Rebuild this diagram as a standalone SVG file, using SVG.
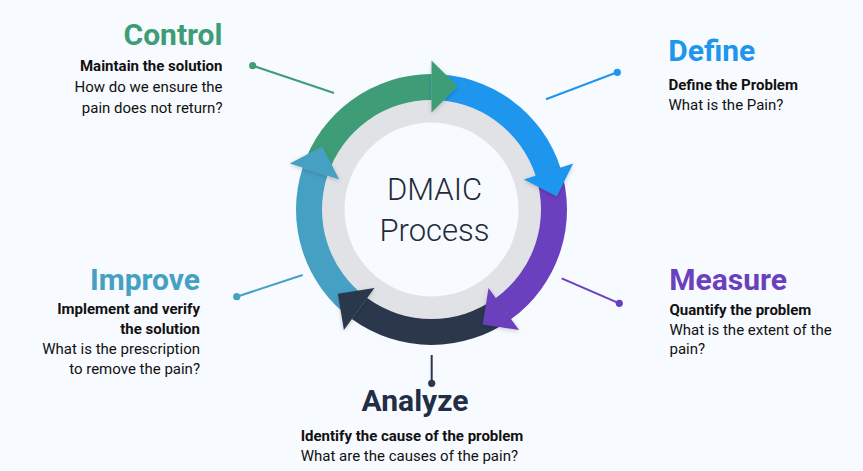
<svg xmlns="http://www.w3.org/2000/svg" width="863" height="471" viewBox="0 0 863 471">
<defs>
<style>
.h{font-family:Roboto,"Liberation Sans",sans-serif;font-weight:700;font-size:30px}
.b{font-family:Roboto,"Liberation Sans",sans-serif;font-weight:700;font-size:15px;fill:#111}
.t{font-family:Roboto,"Liberation Sans",sans-serif;font-weight:400;font-size:15px;fill:#111}
.c{font-family:Roboto,"Liberation Sans",sans-serif;font-weight:300;font-size:31px;fill:#1f2a3a}
.ln{stroke-width:2;fill:none}
</style>
<filter id="sh" x="-20%" y="-20%" width="140%" height="140%">
<feDropShadow dx="0" dy="1.5" stdDeviation="2" flood-color="#000" flood-opacity="0.18"/>
</filter>
</defs>
<rect width="863" height="471" fill="#f7fafe"/>
<g id="ring">
<circle cx="431.5" cy="209.5" r="122" fill="#e1e2e6" filter="url(#sh)"/>
<circle cx="431.5" cy="209.5" r="87" fill="#f7fafe"/>
</g>
<g id="arcs">
<path d="M302.63 167.63 A135.5 135.5 0 0 1 431.5 74 L431.5 100 A109.5 109.5 0 0 0 327.36 175.66 Z" fill="#3e9d76"/>
<path d="M431.5 74 A135.5 135.5 0 0 1 560.37 167.63 L535.64 175.66 A109.5 109.5 0 0 0 431.5 100 Z" fill="#1e96ee"/>
<path d="M560.37 167.63 A135.5 135.5 0 0 1 511.15 319.12 L495.86 298.09 A109.5 109.5 0 0 0 535.64 175.66 Z" fill="#6b40be"/>
<path d="M511.15 319.12 A135.5 135.5 0 0 1 351.85 319.12 L367.14 298.09 A109.5 109.5 0 0 0 495.86 298.09 Z" fill="#2b384c"/>
<path d="M351.85 319.12 A135.5 135.5 0 0 1 302.63 167.63 L327.36 175.66 A109.5 109.5 0 0 0 367.14 298.09 Z" fill="#45a0c4"/>
</g>
<g id="arrowheads" filter="url(#sh)">
<polygon points="431.5,112.5 431.5,60.5 457.7,86.25" fill="#3e9d76"/>
<polygon points="523.75,179.53 573.21,163.46 556.81,196.33" fill="#1e96ee"/>
<polygon points="488.52,287.97 519.08,330.04 482.75,324.61" fill="#6b40be"/>
<polygon points="374.48,287.97 343.92,330.04 337.86,293.81" fill="#2b384c"/>
<polygon points="339.25,179.53 289.79,163.46 322.38,146.5" fill="#45a0c4"/>
</g>
<g id="center-label">
<text class="c" x="434.5" y="200" text-anchor="middle">DMAIC</text>
<text class="c" x="434.5" y="241" text-anchor="middle">Process</text>
</g>
<g id="connectors">
<line class="ln" x1="252.7" y1="65.7" x2="334" y2="93" stroke="#3e9d76"/>
<circle cx="252.7" cy="65.7" r="3.6" fill="#3e9d76"/>
<line class="ln" x1="617.3" y1="72.3" x2="546" y2="99.3" stroke="#1e96ee"/>
<circle cx="617.3" cy="72.3" r="3.6" fill="#1e96ee"/>
<line class="ln" x1="561.7" y1="278.3" x2="619.3" y2="303.3" stroke="#6b40be"/>
<circle cx="619.3" cy="303.3" r="3.6" fill="#6b40be"/>
<line class="ln" x1="431.7" y1="355" x2="431.7" y2="383.3" stroke="#2b384c"/>
<circle cx="431.7" cy="383.3" r="3.6" fill="#2b384c"/>
<line class="ln" x1="302.7" y1="275" x2="236.7" y2="296.7" stroke="#45a0c4"/>
<circle cx="236.7" cy="296.7" r="3.6" fill="#45a0c4"/>
</g>
<g id="control" text-anchor="end">
<text class="h" x="222.5" y="45" fill="#3e9d76">Control</text>
<text class="b" x="222.5" y="70.5">Maintain the solution</text>
<text class="t" x="222.5" y="92">How do we ensure the</text>
<text class="t" x="222.5" y="112.5">pain does not return?</text>
</g>
<g id="define">
<text class="h" x="668.3" y="61" fill="#1e96ee">Define</text>
<text class="b" x="668.5" y="90">Define the Problem</text>
<text class="t" x="668.5" y="110">What is the Pain?</text>
</g>
<g id="measure">
<text class="h" x="669.3" y="289.5" fill="#6b40be">Measure</text>
<text class="b" x="669.5" y="314.5">Quantify the problem</text>
<text class="t" x="669.5" y="334.5">What is the extent of the</text>
<text class="t" x="669.5" y="354">pain?</text>
</g>
<g id="analyze">
<text class="h" x="415" y="411" fill="#222e44" text-anchor="middle">Analyze</text>
<text class="b" x="300.7" y="441">Identify the cause of the problem</text>
<text class="t" x="300.7" y="461">What are the causes of the pain?</text>
</g>
<g id="improve" text-anchor="end">
<text class="h" x="200" y="289.5" fill="#45a0c4">Improve</text>
<text class="b" x="200" y="313.5">Implement and verify</text>
<text class="b" x="200" y="333.5">the solution</text>
<text class="t" x="200" y="353.5">What is the prescription</text>
<text class="t" x="200" y="373.5">to remove the pain?</text>
</g>
</svg>
